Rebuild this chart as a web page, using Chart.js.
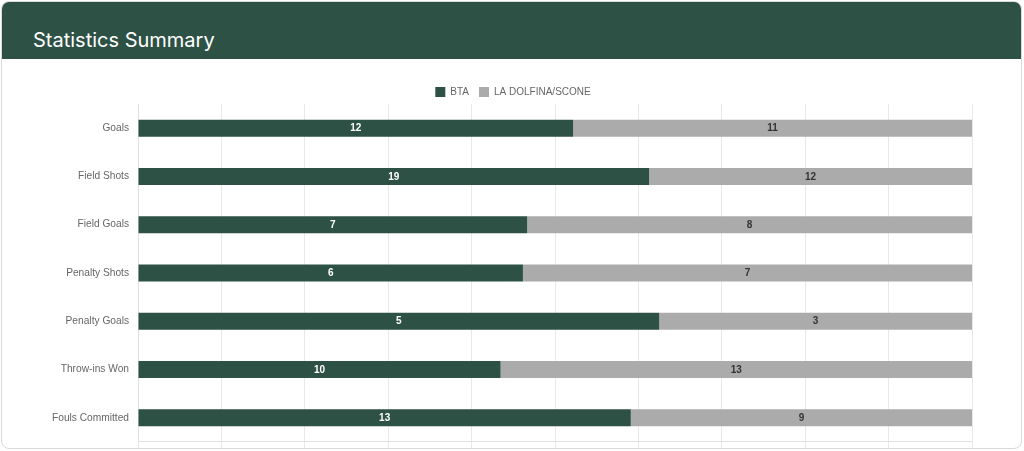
<!DOCTYPE html>
<html>
<head>
<meta charset="utf-8">
<script src="https://cdn.jsdelivr.net/npm/chart.js@4.4.1/dist/chart.umd.min.js"></script>
<style>
  html, body { margin: 0; padding: 0; background: #fff; width: 1024px; height: 451px; overflow: hidden; }
  .card { position: absolute; left: 1px; top: 1px; width: 1019px; height: 446px; border: 1px solid #d9d9d9; border-radius: 8px; overflow: hidden; background: #fff; }
  .header { position: absolute; left: 0; top: 0; width: 100%; height: 57px; background: #2d5245; }
  .header h2 { margin: 0; position: absolute; left: 31px; top: 25px; font-family: Inter, "Noto Sans", sans-serif; font-weight: 400; font-size: 20px; color: #fff; line-height: 26px; }
  .wrap { position: absolute; left: 17px; top: 58px; width: 988px; height: 397px; }
</style>
</head>
<body>
<div class="card">
  <div class="header"><h2>Statistics Summary</h2></div>
  <div class="wrap"><canvas id="c"></canvas></div>
</div>
<script>
const categories = ["Goals", "Field Shots", "Field Goals", "Penalty Shots", "Penalty Goals", "Throw-ins Won", "Fouls Committed"];
const seriesNames = ["BTA", "LA DOLFINA/SCONE"];
const btaValues = [12, 19, 7, 6, 5, 10, 13];
const laDolfinaValues = [11, 12, 8, 7, 3, 13, 9];
const xTicks = [0, 10, 20, 30, 40, 50, 60, 70, 80, 90, 100];

const totals = btaValues.map((v, i) => v + laDolfinaValues[i]);
const pct = (arr) => arr.map((v, i) => v / totals[i] * 100);

const labelPlugin = {
  id: 'valueLabels',
  afterInit(chart) {
    const lg = chart.legend;
    if (lg) {
      const f = lg.fit.bind(lg);
      lg.fit = function () { f(); this.height -= 3; };
    }
  },
  afterDatasetsDraw(chart) {
    const ctx = chart.ctx;
    ctx.save();
    ctx.font = 'bold 10px "Liberation Sans", Arial, sans-serif';
    ctx.textAlign = 'center';
    ctx.textBaseline = 'middle';
    chart.data.datasets.forEach((ds, di) => {
      const meta = chart.getDatasetMeta(di);
      meta.data.forEach((bar, i) => {
        const p = bar.getProps(['x', 'y', 'base'], true);
        const cx = (p.x + p.base) / 2;
        ctx.fillStyle = di === 0 ? '#ffffff' : '#333333';
        ctx.fillText(String(ds.raw[i]), cx, p.y + 0.5);
      });
    });
    ctx.restore();
  }
};

new Chart(document.getElementById('c'), {
  type: 'bar',
  data: {
    labels: categories,
    datasets: [
      { label: seriesNames[0], data: pct(btaValues), raw: btaValues, backgroundColor: '#2d5245', borderWidth: 0, categoryPercentage: 0.8, barPercentage: 0.44 },
      { label: seriesNames[1], data: pct(laDolfinaValues), raw: laDolfinaValues, backgroundColor: '#ababab', borderWidth: 0, categoryPercentage: 0.8, barPercentage: 0.44 }
    ]
  },
  options: {
    indexAxis: 'y',
    responsive: true,
    maintainAspectRatio: false,
    animation: false,
    layout: { padding: { top: 17, right: 0, bottom: 0, left: 0 } },
    plugins: {
      legend: {
        position: 'top',
        labels: { boxWidth: 10, boxHeight: 10, padding: 10, color: '#666', font: { family: '"Liberation Sans", Arial, sans-serif', size: 10 } }
      },
      tooltip: { enabled: false }
    },
    scales: {
      x: {
        stacked: true,
        min: 0, max: 100,
        afterBuildTicks: (s) => { s.ticks = xTicks.map(v => ({ value: v })); },
        ticks: { display: false },
        grid: { color: '#e8e8e8', tickLength: 8, drawTicks: true },
        border: { color: '#e0e0e0' }
      },
      y: {
        stacked: true,
        afterFit: (s) => { s.width = 119; },
        ticks: { color: '#666', padding: 9, font: { family: '"Liberation Sans", Arial, sans-serif', size: 10.2 } },
        grid: { display: false, drawTicks: false },
        border: { display: true, color: '#e0e0e0' }
      },
      ySpacer: {
        type: 'category',
        position: 'right',
        afterFit: (s) => { s.width = 35; },
        ticks: { display: false },
        grid: { display: false, drawTicks: false },
        border: { display: false }
      }
    }
  },
  plugins: [labelPlugin]
});
</script>
</body>
</html>
